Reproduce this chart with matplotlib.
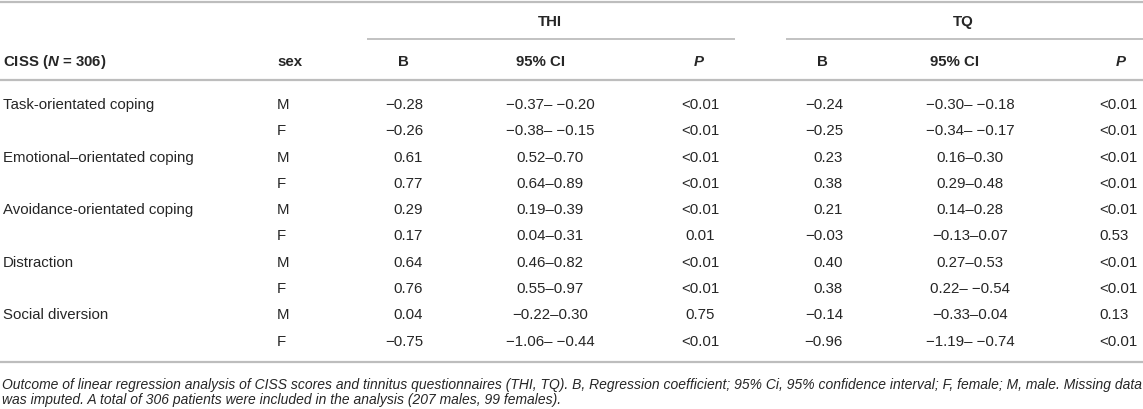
import matplotlib
matplotlib.use("Agg")
import matplotlib.pyplot as plt

# Table data
coping = ["Task-orientated coping", "", "Emotional\u2013orientated coping", "",
          "Avoidance-orientated coping", "", "Distraction", "", "Social diversion", ""]
sex = ["M", "F", "M", "F", "M", "F", "M", "F", "M", "F"]

thi_b = [-0.28, -0.26, 0.61, 0.77, 0.29, 0.17, 0.64, 0.76, 0.04, -0.75]
thi_ci = [(-0.37, -0.20), (-0.38, -0.15), (0.52, 0.70), (0.64, 0.89), (0.19, 0.39),
          (0.04, 0.31), (0.46, 0.82), (0.55, 0.97), (-0.22, 0.30), (-1.06, -0.44)]
thi_p = ["<0.01", "<0.01", "<0.01", "<0.01", "<0.01", "0.01", "<0.01", "<0.01", "0.75", "<0.01"]

tq_b = [-0.24, -0.25, 0.23, 0.38, 0.21, -0.03, 0.40, 0.38, -0.14, -0.96]
tq_ci = [(-0.30, -0.18), (-0.34, -0.17), (0.16, 0.30), (0.29, 0.48), (0.14, 0.28),
         (-0.13, 0.07), (0.27, 0.53), (0.22, -0.54), (-0.33, 0.04), (-1.19, -0.74)]
tq_p = ["<0.01", "<0.01", "<0.01", "<0.01", "<0.01", "0.53", "<0.01", "<0.01", "0.13", "<0.01"]

caption = ["Outcome of linear regression analysis of CISS scores and tinnitus questionnaires (THI, TQ). "
           "B, Regression coefficient; 95% Ci, 95% confidence interval; F, female; M, male. Missing data",
           "was imputed. A total of 306 patients were included in the analysis (207 males, 99 females)."]

plt.rcParams["font.family"] = ["Liberation Sans", "DejaVu Sans"]
plt.rcParams["mathtext.fontset"] = "custom"
plt.rcParams["mathtext.it"] = "Liberation Sans:italic:bold"
plt.rcParams["mathtext.rm"] = "Liberation Sans:bold"


def num(v):
    return f"{v:.2f}".replace("-", "\u2212")


def ci(lo, hi):
    sep = "\u2013 " if hi < 0 else "\u2013"
    return num(lo) + sep + num(hi)


W, H = 1143, 410
fig = plt.figure(figsize=(W / 100, H / 100), dpi=100)
ax = fig.add_axes([0, 0, 1, 1])
ax.set_xlim(0, W)
ax.set_ylim(H, 0)
ax.axis("off")

txt = "#262626"
rule = "#bdbdbd"
fs = 10.8

# Rules
ax.plot([0, W], [3, 3], color=rule, lw=1.6, solid_capstyle="butt")
ax.plot([367, 735], [40, 40], color=rule, lw=1.3, solid_capstyle="butt")
ax.plot([786, W], [40, 40], color=rule, lw=1.3, solid_capstyle="butt")
ax.plot([0, W], [81, 81], color=rule, lw=1.6, solid_capstyle="butt")
ax.plot([0, W], [363, 363], color=rule, lw=1.6, solid_capstyle="butt")

# Header
hy = 62
hkw = dict(va="center", fontsize=fs, fontweight="bold", color=txt)
ax.text(550, 22, "THI", ha="center", **hkw)
ax.text(963, 22, "TQ", ha="center", **hkw)
ax.text(3, hy, r"CISS ($N$ = 306)", ha="left", **hkw)
ax.text(277, hy, "sex", ha="left", **hkw)
ax.text(403, hy, "B", ha="center", **hkw)
ax.text(540, hy, "95% CI", ha="center", **hkw)
ax.text(699, hy, r"$P$", ha="center", **hkw)
ax.text(822, hy, "B", ha="center", **hkw)
ax.text(955, hy, "95% CI", ha="center", **hkw)
ax.text(1121, hy, r"$P$", ha="center", **hkw)

# Body rows
y0, dy = 105, 26.3
kw = dict(va="center", fontsize=fs, color=txt)
for i in range(len(sex)):
    y = y0 + i * dy
    ax.text(3, y, coping[i], ha="left", **kw)
    ax.text(277, y, sex[i], ha="left", **kw)
    ax.text(423, y, num(thi_b[i]), ha="right", **kw)
    ax.text(550, y, ci(*thi_ci[i]), ha="center", **kw)
    ax.text(700, y, thi_p[i], ha="center", **kw)
    ax.text(843, y, num(tq_b[i]), ha="right", **kw)
    ax.text(970, y, ci(*tq_ci[i]), ha="center", **kw)
    ax.text(1099, y, tq_p[i], ha="left", **kw)

# Caption
for j, line in enumerate(caption):
    ax.text(2, 385 + j * 15.5, line, ha="left", va="center", fontsize=10.0,
            style="italic", color=txt)

fig.savefig("out.png", dpi=100)
